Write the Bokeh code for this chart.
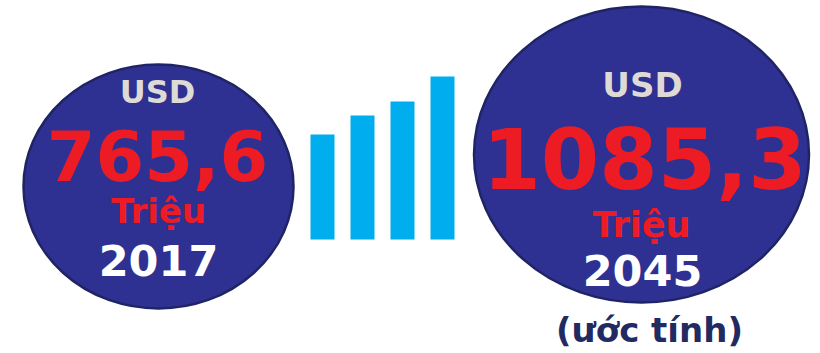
from bokeh.plotting import figure
from bokeh.models import Range1d
from bokeh.core.properties import value
from bokeh.embed import file_html
from bokeh.resources import INLINE

# --- data ---
years = ["2017", "2045"]
amounts = ["765,6", "1085,3"]
currency = ["USD", "USD"]
unit = ["Triệu", "Triệu"]
note = "(ước tính)"
bar_heights = [105, 124, 138, 163]

# --- layout (page pixel coordinates) ---
W, H = 820, 353
p = figure(width=W, height=H, output_backend="svg", toolbar_location=None,
           x_range=Range1d(0, W), y_range=Range1d(H, 0),
           min_border=0)
p.axis.visible = False
p.grid.visible = False
p.outline_line_color = None
p.background_fill_color = "white"
p.border_fill_color = "white"

navy = "#2e3192"
edge = "#1f2464"
red = "#ed1c24"
cyan = "#00aeef"
light = "#dedbd6"

# circles
cx = [158, 641]
cy = [186, 154]
cw = [270, 335]
ch = [244, 296]
p.ellipse(x=cx, y=cy, width=cw, height=ch, fill_color=navy,
          line_color=edge, line_width=2.5)

# bars
bx = [322, 362, 402, 442]
base = 239
p.vbar(x=bx, bottom=[base] * 4, top=[base - h for h in bar_heights],
       width=24, fill_color=cyan, line_color=None)

font = value("DejaVu Sans")

def txt(x, y, s, size, color):
    p.text(x=[x], y=[y - 0.36 * size], text=[s], text_font=font,
           text_font_size=f"{size}px", text_font_style="bold",
           text_color=color, text_align="center", text_baseline="alphabetic")

# left circle
txt(157, 103, currency[0], 32, light)
txt(157, 180, amounts[0], 70, red)
txt(158, 223, unit[0], 34, red)
txt(158, 275, years[0], 43, "white")

# right circle
txt(642, 97, currency[1], 34, light)
txt(644, 188, amounts[1], 84, red)
txt(641, 237, unit[1], 35, red)
txt(642, 285, years[1], 43, "white")

# note
txt(649, 342, note, 34, "#222a62")

open("out.html", "w").write(file_html(p, INLINE))
